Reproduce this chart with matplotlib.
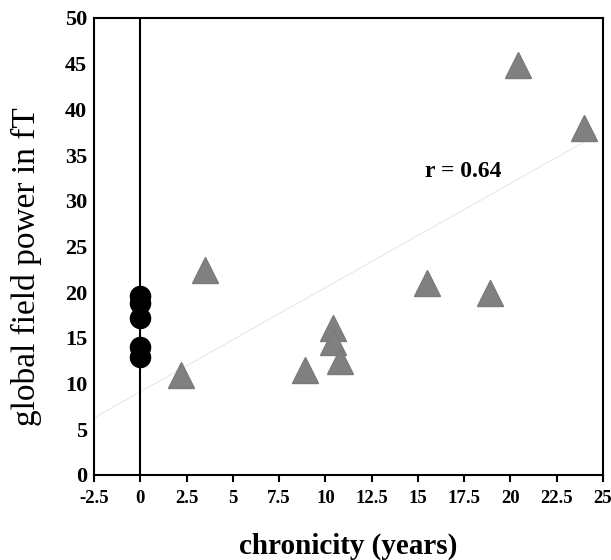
import numpy as np
import matplotlib.pyplot as plt

# controls (chronicity 0)
ctrl_x = [0, 0, 0, 0, 0]
ctrl_y = [19.6, 18.8, 17.2, 14.0, 12.9]

# patients
pat_x = [2.2, 3.5, 8.9, 10.4, 10.4, 10.8, 15.5, 18.9, 20.4, 24.0]
pat_y = [10.9, 22.4, 11.5, 16.1, 14.6, 12.5, 21.0, 19.9, 44.9, 38.0]

# trend line as shown in the original
trend_slope = 1.14
trend_icept = 9.1
trend_x = [-2.5, 24.7]

x_ticks = [-2.5, 0, 2.5, 5, 7.5, 10, 12.5, 15, 17.5, 20, 22.5, 25]
x_labels = ['-2.5', '0', '2.5', '5', '7.5', '10', '12.5', '15', '17.5', '20', '22.5', '25']
y_ticks = [0, 5, 10, 15, 20, 25, 30, 35, 40, 45, 50]

plt.rcParams['font.family'] = ['Liberation Serif', 'DejaVu Serif']

fig = plt.figure(figsize=(6.11, 5.6), dpi=100)
ax = fig.add_axes([0.1539, 0.1518, 0.833, 0.8161])

xl = np.array(trend_x)
ax.plot(xl, trend_slope * xl + trend_icept, color='#e8e8e2', lw=0.8, zorder=1)

ax.axvline(0, color='black', lw=1.5, zorder=2)
ax.plot(ctrl_x, ctrl_y, 'o', color='black', ms=14.5, zorder=3)
ax.plot(pat_x, pat_y, '^', color='#808080', ms=19, markeredgecolor='#7a7a7a', zorder=3)

ax.text(17.45, 33.2, 'r = 0.64', fontsize=17, fontweight='bold', ha='center', va='center')

ax.set_xlim(-2.5, 25)
ax.set_ylim(0, 50)
ax.set_xticks(x_ticks)
ax.set_xticklabels(x_labels, fontsize=13.5, fontweight='bold')
ax.set_yticks(y_ticks)
ax.set_yticklabels([str(v) for v in y_ticks], fontsize=16, fontweight='bold')
ax.tick_params(axis='x', direction='out', length=5, width=1.5, pad=6)
ax.tick_params(axis='y', length=0, pad=5)
for s in ax.spines.values():
    s.set_linewidth(1.5)

ax.set_xlabel('chronicity (years)', fontsize=21, fontweight='bold', labelpad=18)
ax.set_ylabel('global field power in fT', fontsize=24)
ax.yaxis.set_label_coords(-0.102, 0.457)

fig.savefig('out.png', dpi=100)
